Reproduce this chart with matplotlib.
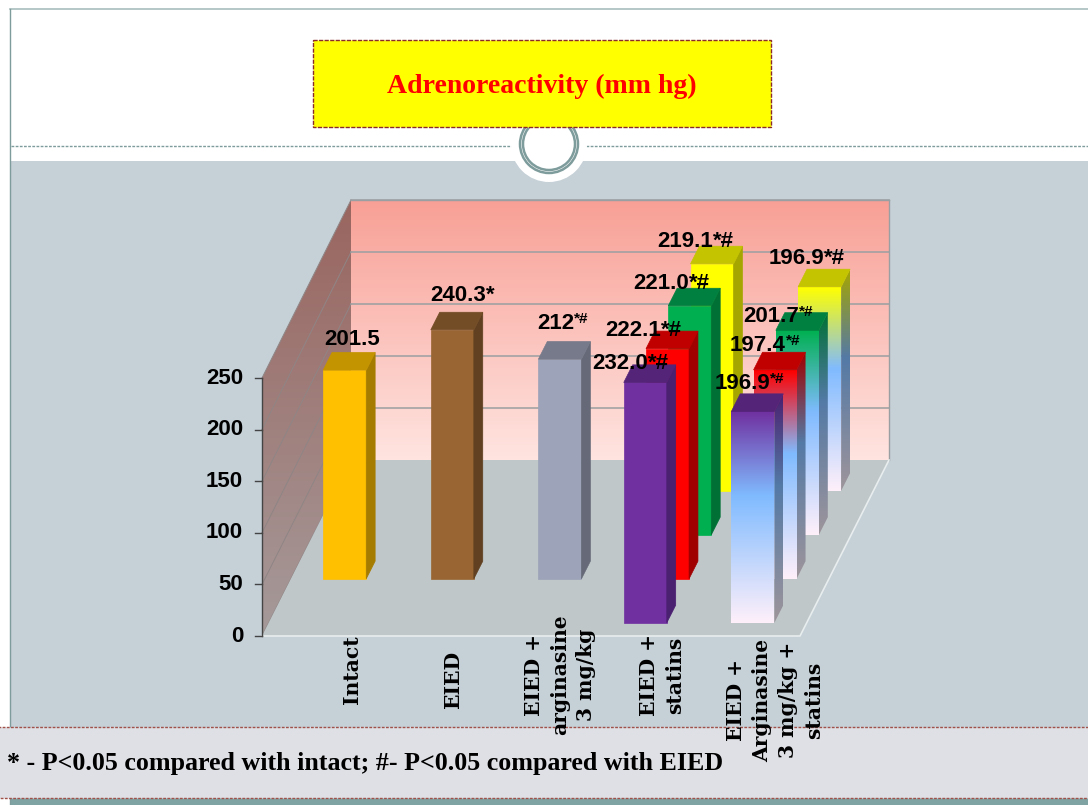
import numpy as np
import matplotlib.pyplot as plt
from matplotlib.patches import Polygon, Rectangle, Circle
from matplotlib.colors import to_rgb

categories = ["Intact", "EIED", "EIED +\narginasine\n3 mg/kg", "EIED +\nstatins",
              "EIED +\nArginasine\n3 mg/kg +\nstatins"]
yticks = [0, 50, 100, 150, 200, 250]

# bar heights, rows run front to back, None where a category has no bar in that row
row_purple = [None, None, None, 232.0, 204.0]
row_second = [201.5, 240.3, 212.0, 222.1, 201.7]
row_green = [None, None, None, 221.0, 197.4]
row_yellow = [None, None, None, 219.1, 196.9]
rows = [row_purple, row_second, row_green, row_yellow]

# printed labels: the last column does not follow the bar heights in the source
text_purple = [None, None, None, "232.0", "196.9"]
text_second = ["201.5", "240.3", "212", "222.1", "197.4"]
text_green = [None, None, None, "221.0", "201.7"]
text_yellow = [None, None, None, "219.1", "196.9"]
texts = [text_purple, text_second, text_green, text_yellow]

tail_purple = [None, None, None, "*#", "*#"]
tail_second = ["", "*", "*#", "*#", "*#"]
tail_green = [None, None, None, "*#", "*#"]
tail_yellow = [None, None, None, "*#", "*#"]
tails = [tail_purple, tail_second, tail_green, tail_yellow]

footnote = "* - P<0.05 compared with intact; #- P<0.05 compared with EIED"
title = "Adrenoreactivity (mm hg)"

# styles: front, top, side
second_colors = [("#FFC000", "#C49400", "#A67C00"), ("#996633", "#734D26", "#604020"),
                 ("#9DA3B8", "#767A8A", "#666A78"), ("#FF0000", "#C00000", "#A00000"),
                 ("#FF0000", "#C00000", "#A00000")]
purple = ("#7030A0", "#542478", "#4A2070")
green = ("#00B050", "#008040", "#007035")
yellow = ("#FFFF00", "#C4C400", "#A6A600")

# label offsets from the bar top, pixels
label_off = {(1, 0): (3, -13), (1, 1): (1, -17), (1, 2): (-9, -18), (0, 3): (-30, -1), (1, 3): (-39, -1),
             (2, 3): (-33, -5), (3, 3): (-31, -5), (3, 4): (-28, -11), (2, 4): (-31, 4), (1, 4): (-22, -7),
             (0, 4): (-15, -10)}
small_tail = {(1, 2), (2, 4), (1, 4), (0, 4)}

X0, Y0 = 262, 636
CAT_W, ROW_X, ROW_Y, ZS = 107.6, 22.25, 44.0, 1.036
AXIS_ZS, WALL_ZS = 1.032, 1.04
BLUE, PALE = "#80BBFF", "#FFF0FA"


def proj(c, d, z, zs=ZS):
    return X0 + CAT_W * c + ROW_X * d, Y0 - ROW_Y * d - zs * z


def grad_poly(ax, pts, stops, colors, zorder):
    """vertical gradient clipped to a polygon"""
    pts = np.array(pts)
    y0, y1 = pts[:, 1].min(), pts[:, 1].max()
    t = np.linspace(0, 1, 256)
    cols = np.array([to_rgb(c) for c in colors])
    img = np.stack([np.interp(t, stops, cols[:, i]) for i in range(3)], axis=1)[:, None, :]
    im = ax.imshow(img, extent=(pts[:, 0].min(), pts[:, 0].max(), y1, y0), aspect="auto",
                   zorder=zorder, interpolation="bilinear")
    p = Polygon(pts, closed=True, transform=ax.transData, fc="none", ec="none")
    ax.add_patch(p)
    im.set_clip_path(p)


def darker(c, f):
    return tuple(v * f for v in to_rgb(c))


def draw_bar(ax, cat, row, val, cols, fade, zorder):
    c0, c1 = cat + 0.3, cat + 0.7
    d0, d1 = row + 0.3, row + 0.7
    front = [proj(c0, d0, 0), proj(c1, d0, 0), proj(c1, d0, val), proj(c0, d0, val)]
    side = [proj(c1, d0, 0), proj(c1, d1, 0), proj(c1, d1, val), proj(c1, d0, val)]
    top = [proj(c0, d0, val), proj(c1, d0, val), proj(c1, d1, val), proj(c0, d1, val)]
    if fade:
        stops = [0, 0.4, 1]
        grad_poly(ax, front, stops, [cols[0], BLUE, PALE], zorder)
        grad_poly(ax, side, stops, [cols[2], darker(BLUE, 0.65), darker(PALE, 0.62)], zorder)
    else:
        ax.add_patch(Polygon(front, fc=cols[0], ec=cols[0], lw=0.5, zorder=zorder))
        ax.add_patch(Polygon(side, fc=cols[2], ec=cols[2], lw=0.5, zorder=zorder))
    ax.add_patch(Polygon(top, fc=cols[1], ec=cols[1], lw=0.5, zorder=zorder))


fig = plt.figure(figsize=(10.88, 8.05), dpi=100)
ax = fig.add_axes([0, 0, 1, 1])
ax.set_xlim(0, 1088)
ax.set_ylim(805, 0)
ax.axis("off")

# slide background
ax.add_patch(Rectangle((11, 161), 1077, 640, fc="#C5D0D7", ec="none", zorder=1))
ax.add_patch(Rectangle((11, 797), 1077, 8, fc="#7FA3A3", ec="none", zorder=1))
ax.plot([10, 1088], [9, 9], color="#A9BDBD", lw=1.2, zorder=1)
ax.plot([10, 10], [9, 805], color="#7F9C9C", lw=1.0, zorder=1)
ax.plot([11, 1088], [146, 146], color="#7F9C9C", lw=1.0, ls=(0, (2, 1)), zorder=1)
ax.add_patch(Circle((549, 144), 38, fc="white", ec="none", zorder=2))
ax.add_patch(Circle((549, 144), 29, fc="none", ec="#7F9C9C", lw=1.8, zorder=2))
ax.add_patch(Circle((549, 144), 26, fc="none", ec="#7F9C9C", lw=1.8, zorder=2))

# title box
ax.add_patch(Rectangle((313, 40), 458, 87, fc="#FFFF00", ec="#8B2A2A", lw=1.0, ls=(0, (3, 1)), zorder=3))
ax.text(542, 86, title, color="#FF0000", fontsize=20, fontweight="bold", family="Liberation Serif",
        ha="center", va="center", zorder=4)

# chart walls and floor
nrows = len(rows)
ncats = len(categories)
ztop = yticks[-1]
wall = [proj(0, nrows, 0), proj(ncats, nrows, 0), proj(ncats, nrows, ztop, WALL_ZS), proj(0, nrows, ztop, WALL_ZS)]
grad_poly(ax, wall, [0, 1], ["#F8A096", "#FFE4E0"], 5)
lwall = [proj(0, 0, 0), proj(0, nrows, 0), proj(0, nrows, ztop, WALL_ZS), proj(0, 0, ztop, AXIS_ZS)]
grad_poly(ax, lwall, [0, 1], ["#9A655F", "#A59A9A"], 5)
floor = [proj(0, 0, 0), proj(ncats, 0, 0), proj(ncats, nrows, 0), proj(0, nrows, 0)]
ax.add_patch(Polygon(floor, fc="#BFC7C9", ec="none", zorder=6))
ax.plot(*zip(proj(0, 0, 0), proj(ncats, 0, 0), proj(ncats, nrows, 0)), color="#E8EDEE", lw=1.2, zorder=6)

for v in yticks:
    a, b, c = proj(0, 0, v, AXIS_ZS), proj(0, nrows, v, WALL_ZS), proj(ncats, nrows, v, WALL_ZS)
    ax.plot([a[0], b[0]], [a[1], b[1]], color="#8F8585", lw=0.7, zorder=5.5)
    if v > 0:
        ax.plot([b[0], c[0]], [b[1], c[1]], color="#9A9FA2", lw=1.1, zorder=5.5)
    ax.plot([a[0] - 7, a[0]], [a[1], a[1]], color="#444444", lw=1.0, zorder=6)
    ax.text(a[0] - 19, a[1], str(v), fontsize=16, fontweight="bold", family="Liberation Sans",
            ha="right", va="center", zorder=30)
ax.plot(*zip(proj(0, 0, 0), proj(0, 0, ztop, AXIS_ZS)), color="#444444", lw=1.0, zorder=6)
ax.plot(*zip(proj(ncats, nrows, 0), proj(ncats, nrows, ztop, WALL_ZS)), color="#9A9FA2", lw=1.0, zorder=5.5)
ax.plot(*zip(proj(0, nrows, ztop, WALL_ZS), proj(ncats, nrows, ztop, WALL_ZS)), color="#9A9FA2", lw=1.0, zorder=5.5)

# bars, back row first
z = 7
for r in range(nrows - 1, -1, -1):
    for c in range(ncats):
        val = rows[r][c]
        if val is None:
            continue
        if r == 0:
            cols = purple
        elif r == 1:
            cols = second_colors[c]
        elif r == 2:
            cols = green
        else:
            cols = yellow
        draw_bar(ax, c, r, val, cols, c == 4, z)
        z += 0.1

# value labels
for r in range(nrows):
    for c in range(ncats):
        val = rows[r][c]
        if val is None:
            continue
        x = proj(c + 0.5, r + 0.5, val)[0]
        y = proj(c, r + 0.7, val)[1]
        ox, oy = label_off[(r, c)]
        kw = dict(fontweight="bold", family="Liberation Sans", zorder=31)
        t = ax.text(x + ox, y + oy, texts[r][c], fontsize=16, ha="center", va="center", **kw)
        tail = tails[r][c]
        if tail:
            small = (r, c) in small_tail
            ax.annotate(tail, xy=(1, 0.72 if small else 0.5), xycoords=t, va="center", ha="left",
                        fontsize=11 if small else 16, annotation_clip=False, **kw)

# footnote band
ax.add_patch(Rectangle((-2, 727), 1092, 71, fc="#DFE0E5", ec="#A0524A", lw=1.0, ls=(0, (2, 1)), zorder=20))
ax.text(7, 763, footnote, fontsize=18.7, fontweight="bold", family="Liberation Serif",
        ha="left", va="center", zorder=21)

# category labels
label_x = [352, 453, 560, 662, 775]
label_y = [670, 680, 675, 675, 700]
for name, lx, ly in zip(categories, label_x, label_y):
    ax.text(lx, ly, name, rotation=90, fontsize=14.6, fontweight="bold", family="DejaVu Serif",
            ha="center", va="center", multialignment="center", linespacing=1.38, zorder=32)

ax.set_xlim(0, 1088)
ax.set_ylim(805, 0)
fig.savefig("out.png", dpi=100)
plt.close(fig)
